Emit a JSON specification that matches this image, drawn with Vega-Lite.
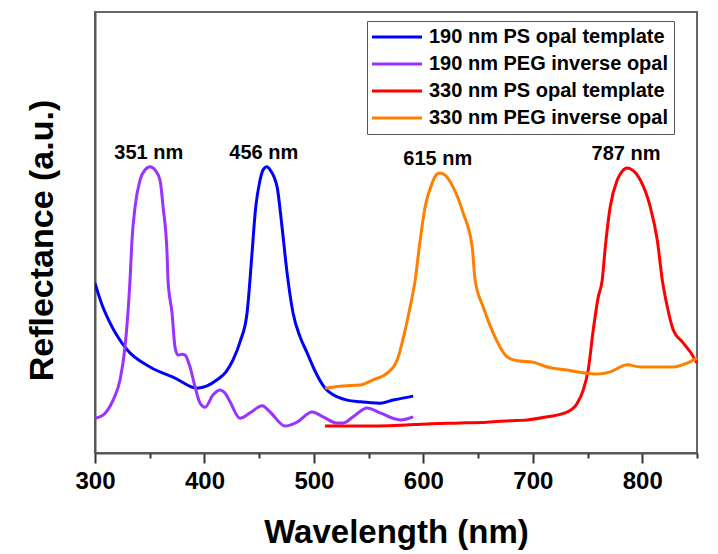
{
  "$schema": "https://vega.github.io/schema/vega-lite/v6.json",
  "width": 602,
  "height": 441,
  "autosize": {"type": "none"},
  "padding": {"left": 95, "top": 12, "right": 21, "bottom": 101},
  "background": "white",
  "config": {
    "view": {"stroke": "#666666", "strokeWidth": 2},
    "font": "Liberation Sans"
  },
  "resolve": {"axis": {"x": "independent"}},
  "datasets": {
    "spectra": [
      {"s": "190 nm PS opal template", "wl": 300, "r": 38.5},
      {"s": "190 nm PS opal template", "wl": 306.4, "r": 33.6},
      {"s": "190 nm PS opal template", "wl": 313.7, "r": 29.5},
      {"s": "190 nm PS opal template", "wl": 329.3, "r": 23.4},
      {"s": "190 nm PS opal template", "wl": 350.3, "r": 19.5},
      {"s": "190 nm PS opal template", "wl": 373.1, "r": 17.0},
      {"s": "190 nm PS opal template", "wl": 393.2, "r": 14.7},
      {"s": "190 nm PS opal template", "wl": 402.4, "r": 15.2},
      {"s": "190 nm PS opal template", "wl": 411.5, "r": 16.6},
      {"s": "190 nm PS opal template", "wl": 419.7, "r": 18.4},
      {"s": "190 nm PS opal template", "wl": 426.1, "r": 21.1},
      {"s": "190 nm PS opal template", "wl": 432.5, "r": 25.2},
      {"s": "190 nm PS opal template", "wl": 438.9, "r": 31.7},
      {"s": "190 nm PS opal template", "wl": 443.5, "r": 45.4},
      {"s": "190 nm PS opal template", "wl": 446.3, "r": 54.4},
      {"s": "190 nm PS opal template", "wl": 450.8, "r": 61.9},
      {"s": "190 nm PS opal template", "wl": 453.6, "r": 64.2},
      {"s": "190 nm PS opal template", "wl": 457, "r": 64.9},
      {"s": "190 nm PS opal template", "wl": 460, "r": 64.2},
      {"s": "190 nm PS opal template", "wl": 466.4, "r": 60.3},
      {"s": "190 nm PS opal template", "wl": 470.9, "r": 51.2},
      {"s": "190 nm PS opal template", "wl": 475.5, "r": 40.8},
      {"s": "190 nm PS opal template", "wl": 481, "r": 31.7},
      {"s": "190 nm PS opal template", "wl": 487.4, "r": 26.3},
      {"s": "190 nm PS opal template", "wl": 493.8, "r": 22.7},
      {"s": "190 nm PS opal template", "wl": 501, "r": 18.6},
      {"s": "190 nm PS opal template", "wl": 510.2, "r": 14.7},
      {"s": "190 nm PS opal template", "wl": 517.6, "r": 13.2},
      {"s": "190 nm PS opal template", "wl": 530.3, "r": 12.0},
      {"s": "190 nm PS opal template", "wl": 542.2, "r": 11.6},
      {"s": "190 nm PS opal template", "wl": 560.5, "r": 11.3},
      {"s": "190 nm PS opal template", "wl": 572.4, "r": 12.0},
      {"s": "190 nm PS opal template", "wl": 590.7, "r": 12.9},
      {"s": "190 nm PEG inverse opal", "wl": 300, "r": 7.9},
      {"s": "190 nm PEG inverse opal", "wl": 307.3, "r": 8.6},
      {"s": "190 nm PEG inverse opal", "wl": 316.5, "r": 12.0},
      {"s": "190 nm PEG inverse opal", "wl": 322.9, "r": 16.6},
      {"s": "190 nm PEG inverse opal", "wl": 327.4, "r": 24.0},
      {"s": "190 nm PEG inverse opal", "wl": 332, "r": 39.2},
      {"s": "190 nm PEG inverse opal", "wl": 333.8, "r": 48.3},
      {"s": "190 nm PEG inverse opal", "wl": 336.6, "r": 55.8},
      {"s": "190 nm PEG inverse opal", "wl": 341.1, "r": 61.9},
      {"s": "190 nm PEG inverse opal", "wl": 345.7, "r": 64.2},
      {"s": "190 nm PEG inverse opal", "wl": 350.3, "r": 64.9},
      {"s": "190 nm PEG inverse opal", "wl": 354.8, "r": 64.2},
      {"s": "190 nm PEG inverse opal", "wl": 359.4, "r": 61.9},
      {"s": "190 nm PEG inverse opal", "wl": 362.2, "r": 55.8},
      {"s": "190 nm PEG inverse opal", "wl": 365.8, "r": 45.4},
      {"s": "190 nm PEG inverse opal", "wl": 366.7, "r": 39.2},
      {"s": "190 nm PEG inverse opal", "wl": 370.4, "r": 31.7},
      {"s": "190 nm PEG inverse opal", "wl": 373.1, "r": 24.0},
      {"s": "190 nm PEG inverse opal", "wl": 375.9, "r": 22.2},
      {"s": "190 nm PEG inverse opal", "wl": 379.5, "r": 22.4},
      {"s": "190 nm PEG inverse opal", "wl": 382.3, "r": 22.2},
      {"s": "190 nm PEG inverse opal", "wl": 386.8, "r": 19.5},
      {"s": "190 nm PEG inverse opal", "wl": 391.4, "r": 15.0},
      {"s": "190 nm PEG inverse opal", "wl": 396, "r": 11.3},
      {"s": "190 nm PEG inverse opal", "wl": 400.5, "r": 10.4},
      {"s": "190 nm PEG inverse opal", "wl": 407.9, "r": 13.2},
      {"s": "190 nm PEG inverse opal", "wl": 414.3, "r": 14.3},
      {"s": "190 nm PEG inverse opal", "wl": 418.8, "r": 13.6},
      {"s": "190 nm PEG inverse opal", "wl": 423.4, "r": 11.6},
      {"s": "190 nm PEG inverse opal", "wl": 432.5, "r": 7.9},
      {"s": "190 nm PEG inverse opal", "wl": 441.7, "r": 9.1},
      {"s": "190 nm PEG inverse opal", "wl": 452.7, "r": 10.7},
      {"s": "190 nm PEG inverse opal", "wl": 460, "r": 9.3},
      {"s": "190 nm PEG inverse opal", "wl": 473.7, "r": 6.1},
      {"s": "190 nm PEG inverse opal", "wl": 484.6, "r": 7.0},
      {"s": "190 nm PEG inverse opal", "wl": 498.4, "r": 9.3},
      {"s": "190 nm PEG inverse opal", "wl": 508.4, "r": 8.2},
      {"s": "190 nm PEG inverse opal", "wl": 521.2, "r": 6.8},
      {"s": "190 nm PEG inverse opal", "wl": 526.7, "r": 6.8},
      {"s": "190 nm PEG inverse opal", "wl": 535.8, "r": 8.2},
      {"s": "190 nm PEG inverse opal", "wl": 548.6, "r": 10.2},
      {"s": "190 nm PEG inverse opal", "wl": 560.5, "r": 9.1},
      {"s": "190 nm PEG inverse opal", "wl": 578.8, "r": 7.5},
      {"s": "190 nm PEG inverse opal", "wl": 590.7, "r": 8.2},
      {"s": "330 nm PS opal template", "wl": 510.2, "r": 6.1},
      {"s": "330 nm PS opal template", "wl": 542.2, "r": 6.1},
      {"s": "330 nm PS opal template", "wl": 578.8, "r": 6.3},
      {"s": "330 nm PS opal template", "wl": 603.5, "r": 6.6},
      {"s": "330 nm PS opal template", "wl": 633.6, "r": 6.8},
      {"s": "330 nm PS opal template", "wl": 658.3, "r": 7.0},
      {"s": "330 nm PS opal template", "wl": 679.3, "r": 7.3},
      {"s": "330 nm PS opal template", "wl": 694.9, "r": 7.5},
      {"s": "330 nm PS opal template", "wl": 713.2, "r": 8.2},
      {"s": "330 nm PS opal template", "wl": 731.4, "r": 9.3},
      {"s": "330 nm PS opal template", "wl": 740.6, "r": 11.3},
      {"s": "330 nm PS opal template", "wl": 746.1, "r": 14.3},
      {"s": "330 nm PS opal template", "wl": 750.6, "r": 18.8},
      {"s": "330 nm PS opal template", "wl": 755.2, "r": 27.9},
      {"s": "330 nm PS opal template", "wl": 759.8, "r": 35.4},
      {"s": "330 nm PS opal template", "wl": 763.4, "r": 39.2},
      {"s": "330 nm PS opal template", "wl": 766.2, "r": 46.7},
      {"s": "330 nm PS opal template", "wl": 770.7, "r": 55.8},
      {"s": "330 nm PS opal template", "wl": 777.1, "r": 61.9},
      {"s": "330 nm PS opal template", "wl": 781.7, "r": 63.9},
      {"s": "330 nm PS opal template", "wl": 786, "r": 64.6},
      {"s": "330 nm PS opal template", "wl": 790.9, "r": 64.2},
      {"s": "330 nm PS opal template", "wl": 798.2, "r": 61.9},
      {"s": "330 nm PS opal template", "wl": 807.3, "r": 55.8},
      {"s": "330 nm PS opal template", "wl": 813.7, "r": 48.3},
      {"s": "330 nm PS opal template", "wl": 818.3, "r": 39.2},
      {"s": "330 nm PS opal template", "wl": 822.9, "r": 33.1},
      {"s": "330 nm PS opal template", "wl": 828.3, "r": 27.9},
      {"s": "330 nm PS opal template", "wl": 836.6, "r": 25.2},
      {"s": "330 nm PS opal template", "wl": 843.9, "r": 22.9},
      {"s": "330 nm PS opal template", "wl": 850, "r": 20.4},
      {"s": "330 nm PEG inverse opal", "wl": 510.2, "r": 14.7},
      {"s": "330 nm PEG inverse opal", "wl": 526.7, "r": 15.2},
      {"s": "330 nm PEG inverse opal", "wl": 542.2, "r": 15.4},
      {"s": "330 nm PEG inverse opal", "wl": 554.1, "r": 16.6},
      {"s": "330 nm PEG inverse opal", "wl": 566.9, "r": 18.1},
      {"s": "330 nm PEG inverse opal", "wl": 576.1, "r": 21.1},
      {"s": "330 nm PEG inverse opal", "wl": 583.4, "r": 27.9},
      {"s": "330 nm PEG inverse opal", "wl": 587.9, "r": 33.1},
      {"s": "330 nm PEG inverse opal", "wl": 592.5, "r": 39.2},
      {"s": "330 nm PEG inverse opal", "wl": 597.1, "r": 48.3},
      {"s": "330 nm PEG inverse opal", "wl": 601.6, "r": 55.8},
      {"s": "330 nm PEG inverse opal", "wl": 608, "r": 61.2},
      {"s": "330 nm PEG inverse opal", "wl": 612.6, "r": 63.3},
      {"s": "330 nm PEG inverse opal", "wl": 615.4, "r": 63.5},
      {"s": "330 nm PEG inverse opal", "wl": 619.9, "r": 63.0},
      {"s": "330 nm PEG inverse opal", "wl": 627.2, "r": 60.3},
      {"s": "330 nm PEG inverse opal", "wl": 636.4, "r": 54.4},
      {"s": "330 nm PEG inverse opal", "wl": 644.6, "r": 46.7},
      {"s": "330 nm PEG inverse opal", "wl": 647.3, "r": 39.2},
      {"s": "330 nm PEG inverse opal", "wl": 654.7, "r": 33.1},
      {"s": "330 nm PEG inverse opal", "wl": 663.8, "r": 27.2},
      {"s": "330 nm PEG inverse opal", "wl": 676.6, "r": 21.8},
      {"s": "330 nm PEG inverse opal", "wl": 685.7, "r": 20.9},
      {"s": "330 nm PEG inverse opal", "wl": 700.4, "r": 20.6},
      {"s": "330 nm PEG inverse opal", "wl": 713.2, "r": 19.5},
      {"s": "330 nm PEG inverse opal", "wl": 731.4, "r": 18.8},
      {"s": "330 nm PEG inverse opal", "wl": 749.7, "r": 18.1},
      {"s": "330 nm PEG inverse opal", "wl": 758.8, "r": 17.9},
      {"s": "330 nm PEG inverse opal", "wl": 770.7, "r": 18.4},
      {"s": "330 nm PEG inverse opal", "wl": 786.3, "r": 20.0},
      {"s": "330 nm PEG inverse opal", "wl": 798.2, "r": 19.5},
      {"s": "330 nm PEG inverse opal", "wl": 816.5, "r": 19.5},
      {"s": "330 nm PEG inverse opal", "wl": 828.3, "r": 19.5},
      {"s": "330 nm PEG inverse opal", "wl": 841.1, "r": 20.4},
      {"s": "330 nm PEG inverse opal", "wl": 850, "r": 21.5}
    ],
    "peaks": [
      {"wl": 351, "r": 64.9, "label": "351 nm"},
      {"wl": 456, "r": 64.9, "label": "456 nm"},
      {"wl": 615, "r": 63.5, "label": "615 nm"},
      {"wl": 787, "r": 64.6, "label": "787 nm"}
    ]
  },
  "layer": [
    {
      "data": {"name": "spectra"},
      "mark": {"type": "line", "strokeWidth": 3, "interpolate": "monotone", "clip": true},
      "encoding": {
        "x": {
          "field": "wl", "type": "quantitative",
          "scale": {"domain": [300, 850], "nice": false, "zero": false},
          "axis": {
            "orient": "bottom",
            "title": "Wavelength (nm)",
            "values": [300, 400, 500, 600, 700, 800],
            "ticks": true, "tickSize": 10,
            "labelFlush": false, "labelOverlap": false,
            "grid": false,
            "domainColor": "#555555", "domainWidth": 2,
            "tickColor": "#333333", "tickWidth": 2,
            "labelFont": "Liberation Sans", "labelFontSize": 24, "labelFontWeight": "bold", "labelColor": "#000000",
            "labelBaseline": "alphabetic", "labelPadding": 25,
            "titleFont": "Liberation Sans", "titleFontSize": 33, "titleFontWeight": "bold", "titleColor": "#000000",
            "titleBaseline": "alphabetic", "titleY": 89, "titleX": 301
          }
        },
        "y": {
          "field": "r", "type": "quantitative",
          "scale": {"domain": [0, 100], "nice": false},
          "axis": {
            "title": "Reflectance (a.u.)",
            "ticks": false, "labels": false, "grid": false,
            "domainColor": "#555555", "domainWidth": 2,
            "titleFont": "Liberation Sans", "titleFontSize": 34, "titleFontWeight": "bold", "titleColor": "#000000",
            "titleAngle": 270, "titleBaseline": "alphabetic", "titleAlign": "center",
            "titleX": -43, "titleY": 228
          }
        },
        "color": {
          "field": "s", "type": "nominal",
          "scale": {
            "domain": ["190 nm PS opal template", "190 nm PEG inverse opal", "330 nm PS opal template", "330 nm PEG inverse opal"],
            "range": ["#0000ff", "#9933ff", "#ff0000", "#ff8000"]
          },
          "legend": {
            "title": null,
            "orient": "none", "legendX": 272, "legendY": 9,
            "fillColor": "white", "strokeColor": "#555555", "padding": 6, "cornerRadius": 0,
            "symbolType": "M-5,0H5", "symbolSize": 100, "symbolStrokeWidth": 3, "symbolOffset": 14,
            "labelOffset": 22, "rowPadding": 7,
            "labelFont": "Liberation Sans", "labelFontSize": 20, "labelFontWeight": "bold", "labelColor": "#000000",
            "labelLimit": 400
          }
        }
      }
    },
    {
      "data": {"name": "peaks"},
      "mark": {"type": "text", "font": "Liberation Sans", "fontSize": 20, "fontWeight": "bold", "color": "#000000", "baseline": "middle", "dy": -14, "dx": -2},
      "encoding": {
        "x": {
          "field": "wl", "type": "quantitative",
          "axis": {
            "orient": "bottom",
            "title": null,
            "values": [350, 450, 550, 650, 750, 850],
            "ticks": true, "tickSize": 5, "labels": false, "domain": false, "grid": false,
            "tickColor": "#333333", "tickWidth": 2
          }
        },
        "y": {"field": "r", "type": "quantitative"},
        "text": {"field": "label"}
      }
    }
  ]
}
